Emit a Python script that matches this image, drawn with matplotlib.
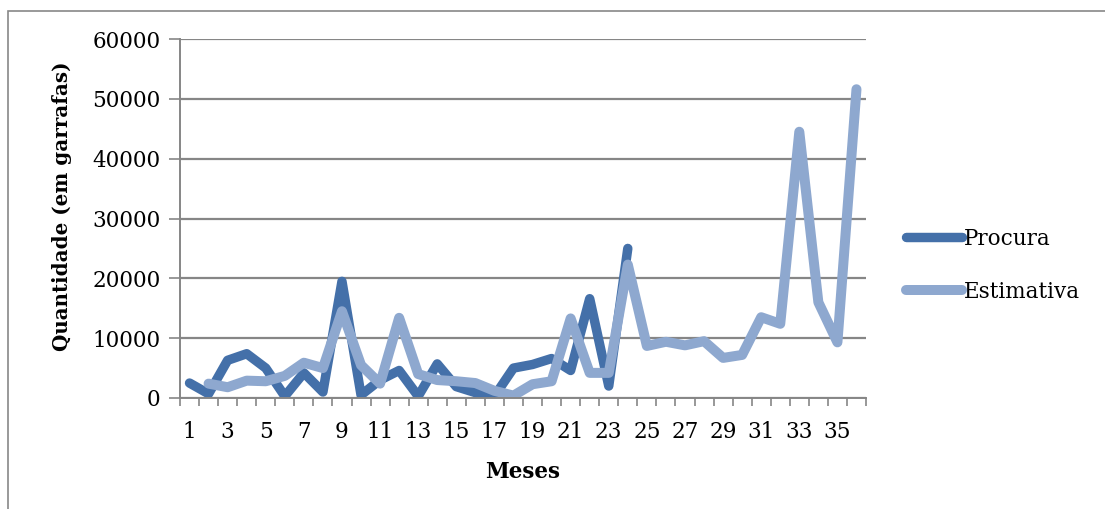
import numpy as np
import matplotlib
matplotlib.use('Agg')
import matplotlib.pyplot as plt
from matplotlib.patches import Rectangle

# procura real (24 meses) e estimativa (36 meses)
meses = list(range(1, 37))
procura = [2500, 700, 6300, 7400, 5000, 300, 4200, 1000, 19500, 500, 3000, 4600,
           300, 5700, 1900, 900, 300, 5000, 5600, 6600, 4600, 16600, 2000, 25000]
estimativa = [np.nan, 2400, 1800, 2900, 2800, 3700, 5900, 5000, 14500, 5500, 2400, 13400,
              4000, 3000, 2800, 2500, 1200, 400, 2300, 2800, 13300, 4200, 4200, 22300,
              8700, 9400, 8800, 9500, 6700, 7200, 13500, 12400, 44500, 16000, 9300, 51600]
y_ticks = [0, 10000, 20000, 30000, 40000, 50000, 60000]

cor_procura = '#4470A9'
cor_estim = '#8EA8CF'
cinza = '#868686'

plt.rcParams['font.family'] = 'DejaVu Serif'
fig = plt.figure(figsize=(11.05, 5.09), dpi=100)
fig.patches.append(Rectangle((8 / 1105, -0.1), 1.2, 1.1 - 11 / 509,
                             transform=fig.transFigure, fill=False,
                             edgecolor='#888888', linewidth=1.2))

ax = fig.add_axes([180 / 1105, 1 - 398 / 509, 686 / 1105, 359 / 509])

ax.plot(meses[:len(procura)], procura, color=cor_procura, lw=6.8,
        solid_capstyle='round', solid_joinstyle='round', label='Procura')
ax.plot(meses, estimativa, color=cor_estim, lw=7.2,
        solid_capstyle='round', solid_joinstyle='round', label='Estimativa')

ax.set_xlim(0.5, 36.5)
ax.set_ylim(0, 60000)
ax.set_yticks(y_ticks)
ax.set_yticklabels([str(v) for v in y_ticks])
ax.yaxis.grid(True, color=cinza, linewidth=1.6)
ax.set_axisbelow(True)

# marcas entre categorias, rotulos nos meses impares
ax.set_xticks(np.arange(0.5, 37, 1))
ax.set_xticklabels([])
ax.set_xticks(meses[::2], minor=True)
ax.set_xticklabels([str(m) for m in meses[::2]], minor=True)
ax.tick_params(axis='x', which='major', length=6, width=1.2, color=cinza)
ax.tick_params(axis='x', which='minor', length=0, pad=16.5, labelsize=15.5)
ax.tick_params(axis='y', length=8, width=1.2, color=cinza, labelsize=15.5, pad=6)

for s in ['top', 'right']:
    ax.spines[s].set_visible(False)
for s in ['left', 'bottom']:
    ax.spines[s].set_color(cinza)
    ax.spines[s].set_linewidth(1.4)

ax.set_xlabel('Meses', fontsize=15.5, fontweight='bold', labelpad=13)
ax.set_ylabel('Quantidade (em garrafas)', fontsize=14.3, fontweight='bold',
              va='center')
ax.yaxis.set_label_coords(-0.172, 0.535)

ax.legend(loc='center left', bbox_to_anchor=(1.03, 0.37), frameon=False,
          fontsize=15.5, handlelength=2.6, handletextpad=0.1, labelspacing=1.45)

fig.savefig('out.png', dpi=100)
